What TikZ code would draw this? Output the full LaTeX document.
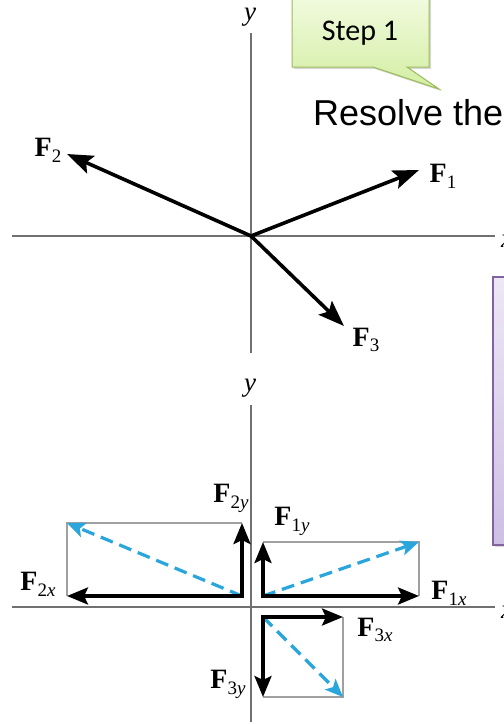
\documentclass[tikz,border=0pt]{standalone}
\usepackage{fontspec}
\setmainfont{Liberation Serif}
\newfontfamily\arialf{Liberation Sans}
\newfontfamily\calib{Carlito}
\usetikzlibrary{arrows.meta,shadows}
\definecolor{axisgray}{HTML}{707070}
\definecolor{rectgray}{HTML}{A0A0A0}
\definecolor{vecblue}{HTML}{2AA6DC}
\definecolor{greenborder}{HTML}{9BBB59}
\definecolor{greentop}{HTML}{F2FBE0}
\definecolor{greenbot}{HTML}{D3EEA3}
\definecolor{purpleborder}{HTML}{8064A2}
\definecolor{purpletop}{HTML}{EDE7F5}
\definecolor{purplebot}{HTML}{CDBEE4}
\newcommand\FF[2]{\textbf{F}\raisebox{-0.45ex}{\fontsize{19}{19}\selectfont #1\textit{#2}}}
\tikzset{
  axisline/.style={draw=axisgray, line width=1.8pt},
  axlabel/.style={font=\fontsize{27}{30}\selectfont\itshape, inner sep=0pt},
  flabel/.style={font=\fontsize{28}{32}\selectfont, inner sep=0pt},
  force/.style={line width=3.6pt, -{Stealth[length=26pt,width=19pt,inset=5pt]}},
  comp/.style={line width=3.6pt, line cap=rect, -{Stealth[length=21pt,width=17pt,inset=4pt]}},
  resvec/.style={draw=vecblue, line width=3.2pt, dash pattern=on 13pt off 7pt, -{Stealth[length=18pt,width=15pt,inset=4pt]}},
  comprect/.style={draw=rectgray, line width=1.2pt},
}
\begin{document}
\begin{tikzpicture}[x=1pt,y=-1pt]
\useasboundingbox (0,0) rectangle (504,724);
\clip (0,0) rectangle (504,724);
\fill[white] (0,0) rectangle (504,724);

% ---------- callout "Step 1"
\path[draw=greenborder, line width=1pt, top color=greentop, bottom color=greenbot,
      drop shadow={opacity=0.3, shadow xshift=2pt, shadow yshift=-2pt}]
  (292,-5) -- (429,-5) -- (429,67) -- (407,67) -- (439,89) -- (373,67) -- (292,67) -- cycle;
\node[font=\calib\fontsize{30}{34}\selectfont, inner sep=0pt] (step) at (360,33) {Step 1};

\node[font=\arialf\fontsize{36}{42}\selectfont, anchor=base west, inner sep=0pt] (resolve) at (313,125) {Resolve the};

% ---------- purple box
\path[draw=purpleborder, line width=1.2pt, top color=purpletop, bottom color=purplebot,
      drop shadow={opacity=0.3, shadow xshift=2pt, shadow yshift=-2pt}]
  (493,277) rectangle (530,545);

% ---------- top axes
\coordinate (O1) at (251,236);
\coordinate (ya1) at (251,33);
\coordinate (yb1) at (251,353);
\coordinate (xa1) at (12,236);
\coordinate (xb1) at (495,236);
\draw[axisline] (ya1) -- (yb1);
\draw[axisline] (xa1) -- (xb1);
\node[axlabel] (ylab1) at (250,17) {y};
\node[axlabel, anchor=west] (xlab1) at (501,241) {x};

\coordinate (F1t) at (419,170);
\coordinate (F2t) at (67,154);
\coordinate (F3t) at (344,326);
\draw[force] (O1) -- (F1t);
\draw[force] (O1) -- (F2t);
\draw[force] (O1) -- (F3t);
\node[flabel] (F1) at (443,176) {\FF{1}{}};
\node[flabel] (F2) at (48,150) {\FF{2}{}};
\node[flabel] (F3) at (366,340) {\FF{3}{}};

% ---------- bottom axes
\coordinate (O2) at (251,607);
\coordinate (ya2) at (251,405);
\coordinate (yb2) at (251,722);
\coordinate (xa2) at (12,607);
\coordinate (xb2) at (495,607);
\draw[axisline] (ya2) -- (yb2);
\draw[axisline] (xa2) -- (xb2);
\node[axlabel] (ylab2) at (250,388) {y};
\node[axlabel, anchor=west] (xlab2) at (501,612) {x};

% F2 components
\coordinate (c2) at (242,596);
\coordinate (c2x) at (67,596);
\coordinate (c2y) at (242,523);
\coordinate (c2d) at (67,523);
% F1 components
\coordinate (c1) at (263,596);
\coordinate (c1x) at (419,596);
\coordinate (c1y) at (263,542);
\coordinate (c1d) at (419,542);
% F3 components
\coordinate (c3) at (263,617);
\coordinate (c3x) at (343,617);
\coordinate (c3y) at (263,697);
\coordinate (c3d) at (343,697);

\draw[comprect] (c2x) -- (c2d) -- (c2y);
\draw[comprect] (c1y) -- (c1d) -- (c1x);
\draw[comprect] (c3x) -- (c3d) -- (c3y);

\draw[resvec] (c2) -- (c2d);
\draw[resvec] (c1) -- (c1d);
\draw[resvec] (c3) -- (c3d);

\draw[comp] (c2) -- (c2x);
\draw[comp] (c2) -- (c2y);
\draw[comp] (c1) -- (c1x);
\draw[comp] (c1) -- (c1y);
\draw[comp] (c3) -- (c3x);
\draw[comp] (c3) -- (c3y);

\node[flabel] (F2y) at (231,498) {\FF{2}{y}};
\node[flabel] (F2x) at (38,584) {\FF{2}{x}};
\node[flabel] (F1y) at (292,521) {\FF{1}{y}};
\node[flabel] (F1x) at (449,593) {\FF{1}{x}};
\node[flabel] (F3x) at (375,630) {\FF{3}{x}};
\node[flabel] (F3y) at (228,684) {\FF{3}{y}};
\end{tikzpicture}
\end{document}
